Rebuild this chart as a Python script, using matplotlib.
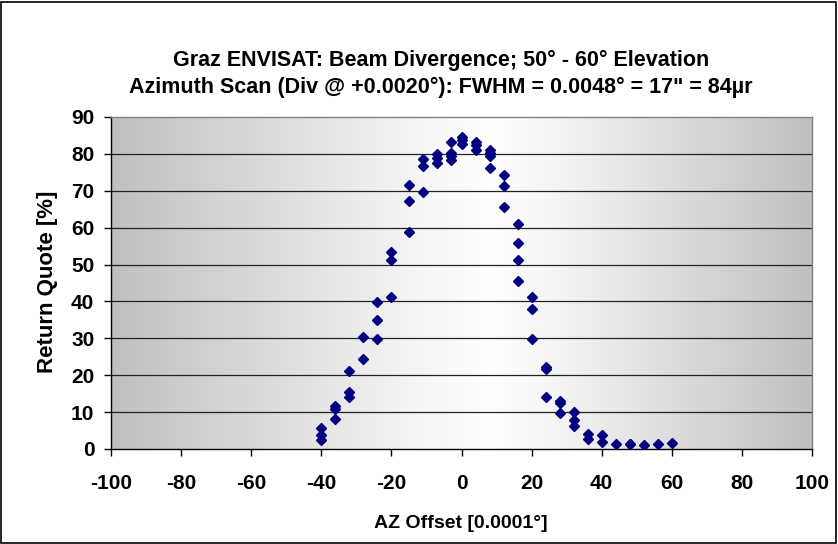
import numpy as np
import matplotlib
matplotlib.use("Agg")
import matplotlib.pyplot as plt
from matplotlib.patches import Rectangle

plt.rcParams['font.family'] = ['Liberation Sans', 'DejaVu Sans']
plt.rcParams['font.weight'] = 'bold'
plt.rcParams['axes.unicode_minus'] = False

# Data: AZ offset [0.0001 deg] -> list of return quote values [%]
az_offsets = [-40, -36, -32, -28, -24, -20, -15, -11, -7, -3, 0,
              4, 8, 12, 16, 20, 24, 28, 32, 36, 40, 44, 48, 52, 56, 60]
return_quotes = [
    [5.6, 3.9, 2.4],
    [11.6, 10.8, 8.1],
    [21.2, 15.4, 14.0],
    [30.4, 24.3],
    [39.8, 35.1, 29.8],
    [53.3, 51.2, 41.3],
    [71.7, 67.3, 58.7],
    [78.6, 76.7, 69.8],
    [80.1, 78.8, 77.6],
    [83.2, 80.2, 79.3, 78.4],
    [84.7, 83.8, 82.7],
    [83.2, 82.3, 81.1],
    [81.1, 80.2, 79.5, 76.3],
    [74.4, 71.3, 65.6],
    [61.1, 55.8, 51.2, 45.5],
    [41.3, 37.9, 29.8],
    [22.3, 21.8, 14.0],
    [12.9, 12.4, 9.7],
    [10.0, 7.9, 6.2],
    [4.2, 2.8],
    [3.9, 2.0],
    [1.4],
    [1.4, 1.3],
    [1.2],
    [1.4],
    [1.5],
]
x_ticks = list(range(-100, 101, 20))
y_ticks = list(range(0, 91, 10))

title_lines = ["Graz ENVISAT: Beam Divergence; 50° - 60° Elevation",
               "Azimuth Scan (Div @ +0.0020°): FWHM = 0.0048° = 17\" = 84µr"]
x_label = "AZ Offset [0.0001°]"
y_label = "Return Quote [%]"

W, H = 838, 544
fig = plt.figure(figsize=(W / 100, H / 100), dpi=100)
fig.patch.set_facecolor('white')
# outer chart border
fig.add_artist(Rectangle((1 / W, 1 / H), (W - 3) / W, (H - 3) / H,
                         transform=fig.transFigure, fill=False,
                         edgecolor='black', linewidth=1.2))

left, right, top, bottom = 111, 812, 117, 449
ax = fig.add_axes([left / W, (H - bottom) / H, (right - left) / W, (bottom - top) / H])

# gradient background: gray at edges, white in centre
xs = np.linspace(0, 1, 400)
center = 0.54
g = np.where(xs < center, (center - xs) / center, (xs - center) / (1 - center))
shade = 1.0 - 0.25 * g ** 1.1
img = np.stack([shade, shade, shade], axis=-1)[None, :, :].repeat(2, axis=0)
ax.imshow(img, extent=[0, 1, 0, 1], transform=ax.transAxes, aspect='auto', zorder=0)

for yv in y_ticks[1:-1]:
    ax.axhline(yv, color='#222222', linewidth=0.9, zorder=1)

xs_pts, ys_pts = [], []
for xv, vals in zip(az_offsets, return_quotes):
    for v in vals:
        xs_pts.append(xv)
        ys_pts.append(v)
ax.plot(xs_pts, ys_pts, linestyle='none', marker='D', markersize=4.8,
        color='#000080', zorder=3)

ax.set_xlim(-100, 100)
ax.set_ylim(0, 90)
ax.set_xticks(x_ticks)
ax.set_yticks(y_ticks)
ax.tick_params(axis='both', direction='out', length=5, width=1, colors='black',
               labelsize=15)
ax.tick_params(axis='x', pad=13)
ax.tick_params(axis='y', pad=7)
for lab in ax.get_xticklabels() + ax.get_yticklabels():
    lab.set_fontweight('bold')
ax.spines['left'].set_color('black')
ax.spines['bottom'].set_color('black')
ax.spines['top'].set_color('#808080')
ax.spines['right'].set_color('#808080')
for s in ax.spines.values():
    s.set_linewidth(1.0)

fig.text(441 / W, 1 - 60 / H, title_lines[0], ha='center', va='center',
         fontsize=15.5, fontweight='bold')
fig.text(441 / W, 1 - 87 / H, title_lines[1], ha='center', va='center',
         fontsize=15.5, fontweight='bold')
fig.text(461 / W, 1 - 523 / H, x_label, ha='center', va='center',
         fontsize=14, fontweight='bold')
fig.text(47 / W, 1 - 282 / H, y_label, ha='center', va='center',
         fontsize=16, fontweight='bold', rotation=90)

fig.savefig('out.png', dpi=100)
